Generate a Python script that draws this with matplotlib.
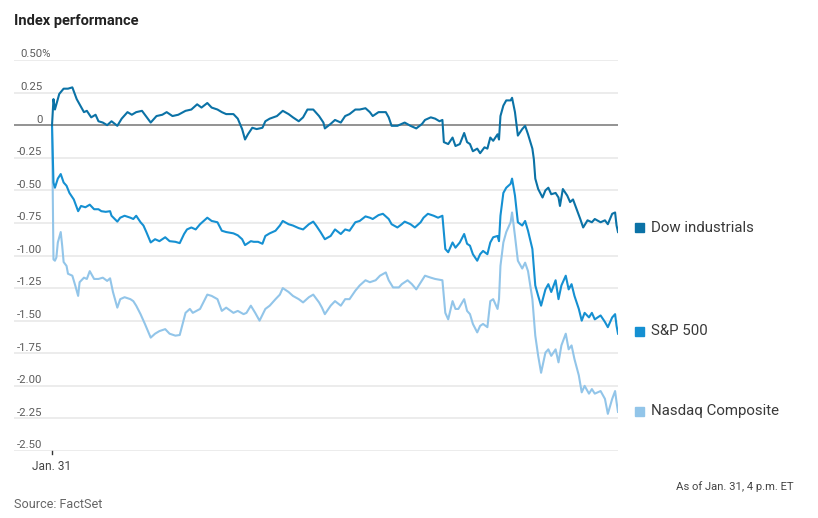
import matplotlib
matplotlib.use("Agg")
import matplotlib.pyplot as plt
import matplotlib.transforms as mtransforms
from matplotlib import font_manager as fm

# minutes after the 9:30 open, percent change on the day
dow_min = [0, 1, 2, 4, 5, 8, 11, 14, 17, 22, 24, 27, 30, 32, 35, 38, 41, 45, 48, 52, 55, 58, 62, 64, 68,
           72, 76, 79, 83, 87, 92, 96, 100, 103, 107, 110, 114, 117, 120, 125, 128, 131, 133, 135, 138,
           141, 145, 147, 150, 155, 159, 163, 166, 170, 173, 176, 180, 184, 187, 188, 192, 195, 199, 202,
           205, 209, 212, 216, 219, 221, 225, 230, 232, 234, 238, 241, 243, 247, 251, 255, 257, 261, 264,
           267, 269, 270, 273, 276, 278, 281, 284, 286, 288, 290, 293, 295, 298, 300, 302, 304, 307, 308,
           309, 311, 313, 316, 317, 319, 321, 324, 326, 328, 331, 332, 333, 335, 338, 340, 342, 344, 347,
           349, 350, 352, 355, 357, 359, 362, 364, 366, 369, 372, 374, 378, 381, 383, 386, 388, 389, 390]
dow_pct = [0, 0.20, 0.12, 0.20, 0.24, 0.28, 0.28, 0.29, 0.20, 0.10, 0.11, 0.06, 0.08, 0.03, 0.02, 0.0,
           0.03, -0.005, 0.05, 0.10, 0.08, 0.10, 0.11, 0.08, 0.02, 0.07, 0.08, 0.10, 0.07, 0.08, 0.11, 0.12,
           0.16, 0.135, 0.17, 0.135, 0.12, 0.10, 0.085, 0.085, 0.05, -0.03, -0.11, -0.07, -0.02, -0.03,
           -0.02, 0.03, 0.05, 0.07, 0.11, 0.085, 0.06, 0.03, 0.06, 0.12, 0.12, 0.07, 0.02, -0.025, 0.01,
           0.04, 0.02, 0.07, 0.085, 0.12, 0.12, 0.13, 0.10, 0.07, 0.10, 0.10, 0.06, -0.005, -0.005, 0.01,
           0.02, -0.005, -0.025, 0.01, 0.04, 0.06, 0.05, 0.03, 0.04, -0.13, -0.145, -0.095, -0.16, -0.145,
           -0.06, -0.13, -0.145, -0.20, -0.18, -0.215, -0.17, -0.18, -0.095, -0.12, -0.07, -0.11, 0.07, 0.15,
           0.19, 0.19, 0.21, 0.10, -0.08, -0.03, -0.005, -0.07, -0.18, -0.26, -0.41, -0.49, -0.555, -0.50,
           -0.48, -0.53, -0.52, -0.555, -0.62, -0.49, -0.54, -0.59, -0.57, -0.66, -0.72, -0.785, -0.73,
           -0.745, -0.72, -0.745, -0.73, -0.76, -0.68, -0.67, -0.77, -0.82]

sp_min = [0, 1, 2, 4, 6, 8, 10, 12, 15, 17, 18, 20, 23, 26, 29, 32, 34, 37, 40, 41, 45, 47, 50, 54, 56,
          58, 61, 63, 65, 68, 71, 74, 78, 81, 85, 88, 91, 93, 96, 99, 102, 107, 110, 114, 117, 120, 125,
          128, 131, 133, 137, 139, 142, 145, 147, 150, 154, 157, 159, 163, 166, 170, 173, 177, 180, 182,
          185, 188, 192, 195, 199, 202, 205, 209, 212, 216, 219, 221, 225, 228, 232, 234, 238, 241, 243,
          247, 250, 254, 256, 259, 263, 266, 269, 271, 273, 276, 278, 281, 284, 286, 288, 290, 293, 295,
          297, 300, 302, 304, 307, 308, 309, 311, 313, 316, 317, 319, 321, 324, 326, 328, 331, 333, 335,
          337, 340, 342, 344, 347, 349, 351, 354, 356, 358, 360, 363, 365, 367, 370, 372, 374, 378, 381,
          383, 386, 388, 389, 390]
sp_pct = [0, -0.44, -0.48, -0.41, -0.375, -0.44, -0.465, -0.52, -0.57, -0.63, -0.66, -0.62, -0.63, -0.61,
          -0.645, -0.645, -0.66, -0.665, -0.66, -0.695, -0.74, -0.71, -0.695, -0.71, -0.72, -0.695, -0.745,
          -0.77, -0.82, -0.90, -0.875, -0.89, -0.86, -0.89, -0.895, -0.905, -0.835, -0.80, -0.785, -0.80,
          -0.76, -0.71, -0.735, -0.745, -0.81, -0.82, -0.83, -0.845, -0.875, -0.92, -0.89, -0.895, -0.895,
          -0.91, -0.85, -0.83, -0.81, -0.77, -0.735, -0.76, -0.77, -0.79, -0.80, -0.76, -0.74, -0.77, -0.82,
          -0.875, -0.85, -0.80, -0.835, -0.80, -0.81, -0.745, -0.735, -0.70, -0.71, -0.72, -0.69, -0.68,
          -0.72, -0.76, -0.785, -0.76, -0.74, -0.76, -0.785, -0.745, -0.71, -0.68, -0.695, -0.71, -0.695,
          -0.95, -0.975, -0.90, -0.94, -0.90, -0.835, -0.91, -0.925, -0.99, -1.04, -0.99, -0.965, -0.99,
          -0.90, -0.86, -0.85, -0.89, -0.695, -0.52, -0.48, -0.45, -0.41, -0.54, -0.745, -0.77, -0.735,
          -0.81, -0.95, -1.23, -1.31, -1.385, -1.26, -1.22, -1.28, -1.19, -1.335, -1.23, -1.155, -1.26,
          -1.22, -1.31, -1.41, -1.50, -1.44, -1.475, -1.44, -1.49, -1.46, -1.51, -1.55, -1.475, -1.45,
          -1.54, -1.60]

nq_min = [0, 1, 2, 3, 4, 6, 7, 8, 10, 11, 14, 16, 18, 19, 22, 24, 26, 29, 32, 35, 38, 40, 42, 45, 47,
          50, 54, 56, 58, 61, 64, 68, 71, 74, 78, 81, 85, 88, 92, 95, 97, 102, 107, 110, 114, 117, 120,
          125, 128, 132, 134, 137, 140, 143, 147, 150, 154, 157, 159, 163, 166, 170, 173, 177, 180, 184,
          186, 188, 192, 195, 199, 202, 205, 209, 212, 216, 219, 223, 226, 230, 232, 235, 239, 241, 245,
          248, 251, 255, 257, 261, 264, 269, 271, 273, 276, 278, 280, 284, 286, 288, 290, 293, 295, 297,
          300, 302, 304, 307, 308, 309, 311, 313, 316, 317, 319, 321, 324, 326, 328, 331, 333, 335, 337,
          340, 342, 344, 347, 349, 351, 354, 356, 358, 360, 363, 365, 367, 370, 372, 374, 378, 381, 383,
          386, 388, 389, 390]
nq_pct = [0, -1.03, -1.04, -1.015, -0.90, -0.82, -0.925, -1.05, -1.08, -1.14, -1.155, -1.23, -1.31,
          -1.205, -1.17, -1.18, -1.12, -1.18, -1.18, -1.17, -1.195, -1.175, -1.28, -1.40, -1.335, -1.32,
          -1.335, -1.35, -1.385, -1.45, -1.525, -1.63, -1.60, -1.58, -1.565, -1.60, -1.615, -1.61, -1.44,
          -1.41, -1.44, -1.41, -1.30, -1.31, -1.335, -1.425, -1.40, -1.44, -1.425, -1.45, -1.44, -1.385,
          -1.44, -1.50, -1.41, -1.385, -1.335, -1.30, -1.25, -1.28, -1.31, -1.335, -1.36, -1.32, -1.30,
          -1.36, -1.40, -1.45, -1.385, -1.35, -1.385, -1.335, -1.335, -1.27, -1.23, -1.19, -1.205, -1.19,
          -1.155, -1.13, -1.19, -1.245, -1.245, -1.22, -1.19, -1.22, -1.26, -1.19, -1.155, -1.17, -1.18,
          -1.19, -1.44, -1.49, -1.35, -1.41, -1.41, -1.335, -1.425, -1.45, -1.525, -1.59, -1.54, -1.525,
          -1.55, -1.35, -1.335, -1.41, -1.335, -1.08, -0.90, -0.82, -0.745, -0.67, -0.85, -1.04, -1.10,
          -1.055, -1.12, -1.335, -1.615, -1.77, -1.90, -1.745, -1.72, -1.77, -1.72, -1.82, -1.69, -1.60,
          -1.72, -1.69, -1.795, -1.92, -2.05, -2.00, -2.06, -2.025, -2.06, -2.04, -2.10, -2.215, -2.10,
          -2.04, -2.125, -2.20]

y_ticks = [0.5, 0.25, 0, -0.25, -0.5, -0.75, -1.0, -1.25, -1.5, -1.75, -2.0, -2.25, -2.5]
y_labels = ['0.50%', '0.25', '0', '-0.25', '-0.50', '-0.75', '-1.00', '-1.25', '-1.50', '-1.75',
            '-2.00', '-2.25', '-2.50']
names = ['Dow industrials', 'S&P 500', 'Nasdaq Composite']
colors = ['#0b72a6', '#1590d2', '#92c5e9']
legend_y = [228, 331, 411]   # pixel rows of the end labels

have = {f.name for f in fm.fontManager.ttflist}
font = 'Liberation Sans Narrow' if 'Liberation Sans Narrow' in have else 'Roboto'
plt.rcParams['font.family'] = [font, 'DejaVu Sans']

W, H = 818, 518
fig = plt.figure(figsize=(W / 100, H / 100), dpi=100)


def fx(px):
    return px / W


def fy(py):
    return 1 - py / H


ax = fig.add_axes([fx(14), fy(451), fx(618) - fx(14), fy(60) - fy(451)])
ax.set_xlim(-26.2, 390)
ax.set_ylim(-2.5, 0.5)
for s in ax.spines.values():
    s.set_visible(False)
ax.set_xticks([])
ax.set_yticks([])

for t in y_ticks:
    if t == 0:
        continue
    ax.axhline(t, color='#e9e9e9', lw=1.2, zorder=1)
ax.axhline(0, color='#8a8a8a', lw=1.3, zorder=2)

ax.plot(nq_min, nq_pct, color=colors[2], lw=1.5, zorder=3, solid_joinstyle='round')
ax.plot(sp_min, sp_pct, color=colors[1], lw=1.5, zorder=4, solid_joinstyle='round')
ax.plot(dow_min, dow_pct, color=colors[0], lw=1.5, zorder=5, solid_joinstyle='round')

# y labels sit just above each gridline
trans = mtransforms.blended_transform_factory(fig.transFigure, ax.transData)
for t, lab in zip(y_ticks, y_labels):
    if lab.endswith('%'):
        ax.text(fx(20), t + 0.02, lab, transform=trans, ha='left', va='baseline',
                fontsize=8.2, color='#5c5c5c')
    else:
        ax.text(fx(42.5), t + 0.02, lab, transform=trans, ha='right', va='baseline',
                fontsize=8.2, color='#5c5c5c')

# single x tick at the open
ax.plot([0, 0], [-2.5, -2.525], color='#333333', lw=1, clip_on=False)
fig.text(fx(52), fy(466), 'Jan. 31', ha='center', va='center', fontsize=8.6, color='#444444')

# end labels
for name, c, py in zip(names, colors, legend_y):
    fig.patches.append(plt.Rectangle((fx(634.5), fy(py + 4.5)), fx(9), fy(0) - fy(9),
                                     transform=fig.transFigure, color=c, figure=fig))
    fig.text(fx(651), fy(py), name, ha='left', va='center', fontsize=10.8, color='#3a3a3a')

fig.text(fx(14), fy(21), 'Index performance', ha='left', va='center', fontsize=10.5,
         fontweight='bold', color='#222222')
fig.text(fx(14), fy(504), 'Source: FactSet', ha='left', va='center', fontsize=9.1, color='#666666')
fig.text(fx(794), fy(487), 'As of Jan. 31, 4 p.m. ET', ha='right', va='center', fontsize=8.1,
         color='#444444')

fig.savefig('out.png', dpi=100)
